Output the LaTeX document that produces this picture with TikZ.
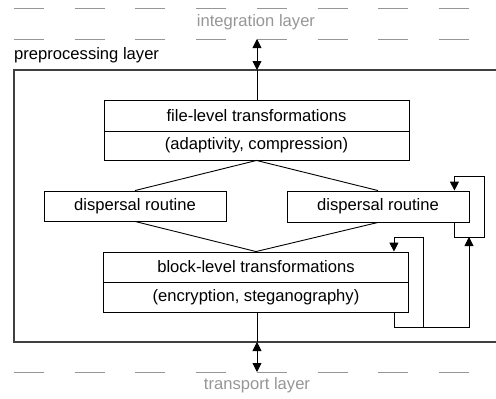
\documentclass[tikz,border=0pt]{standalone}
\usepackage{fontspec}
\setmainfont{Liberation Sans}
\usetikzlibrary{arrows.meta,calc}
\definecolor{layergrey}{RGB}{150,150,150}
\begin{document}
\begin{tikzpicture}[x=1pt,y=-1pt,
  every node/.style={font=\fontsize{16.6}{20}\selectfont},
  stagebox/.style={draw,line width=0.9pt,minimum width=305pt,inner sep=0pt,anchor=center},
  routinebox/.style={draw,line width=0.9pt,minimum width=182pt,minimum height=30pt,inner sep=0pt},
  conn/.style={line width=0.9pt},
  tip/.style={-{Triangle[length=9pt,width=9pt]}},
  dtip/.style={{Triangle[length=9pt,width=9pt]}-{Triangle[length=9pt,width=9pt]}},
  layerline/.style={layergrey,line width=1pt,dash pattern=on 30pt off 30.7pt},
  layertext/.style={text=layergrey}]
\useasboundingbox (0,0) rectangle (496,399);
\clip (0,0) rectangle (496,399);

% neighbouring layers
\draw[layerline] (14,8) -- (496,8);
\draw[layerline] (14,39) -- (496,39);
\draw[layerline] (14,372) -- (496,372);
\node[layertext] (integ) at (256,22) {integration layer};
\node[layertext] (transp) at (257,385) {transport layer};

% preprocessing layer frame (open to the right)
\node[anchor=west,inner sep=0pt] (prep) at (14,55) {preprocessing layer};
\draw[line width=1.2pt,black!75] (500,70) -- (14,70) -- (14,342) -- (500,342);

% stages
\node[stagebox,minimum height=31pt] (fileA) at (256.5,115.5) {file-level transformations};
\node[stagebox,minimum height=29pt] (fileB) at (256.5,145.5) {(adaptivity, compression)};
\node[routinebox] (dispL) at (135,206) {dispersal routine};
\node[routinebox,minimum height=31pt] (dispR) at (378,206.5) {dispersal routine};
\node[stagebox,minimum height=30pt] (blockA) at (256,267) {block-level transformations};
\node[stagebox,minimum height=30pt] (blockB) at (256,297) {(encryption, steganography)};

% layer interfaces
\coordinate (inTop) at (257,39);
\coordinate (inBot) at (257,70);
\coordinate (outTop) at (257,342);
\coordinate (outBot) at (257,372);
\draw[conn,dtip] (inTop) -- (inBot);
\draw[conn] (inBot) -- (fileA.north -| inBot);
\draw[conn] (blockB.south -| outTop) -- (outTop);
\draw[conn,dtip] (outTop) -- (outBot);

% fan-out to the dispersal routines and back
\draw[conn] (dispL.north) -- (fileB.south) -- (dispR.north);
\draw[conn] (dispL.south) -- (blockA.north) -- (dispR.south);

% self-loop of the right dispersal routine
\coordinate (dOut) at ($(dispR.south east)+(-15,0)$);
\coordinate (dIn) at ($(dispR.north east)+(-15,0)$);
\coordinate (dLow) at (484,237);
\coordinate (dHigh) at (484,176);
\draw[conn,tip] (dOut) -- (dOut |- dLow) -- (dLow) -- (dHigh) -- (dIn |- dHigh) -- (dIn);

% self-loop of the block-level stage
\coordinate (bOut) at ($(blockB.south east)+(-15,0)$);
\coordinate (bIn) at ($(blockA.north east)+(-15,0)$);
\coordinate (bLow) at (423,327);
\coordinate (bHigh) at (423,237);
\draw[conn,tip] (bOut) -- (bOut |- bLow) -- (bLow) -- (bHigh) -- (bIn |- bHigh) -- (bIn);

% feedback from block-level stage to the dispersal loop
\coordinate (fbCorner) at (469,327);
\draw[conn,tip] (bLow) -- (fbCorner) -- (fbCorner |- dLow);
\end{tikzpicture}
\end{document}
